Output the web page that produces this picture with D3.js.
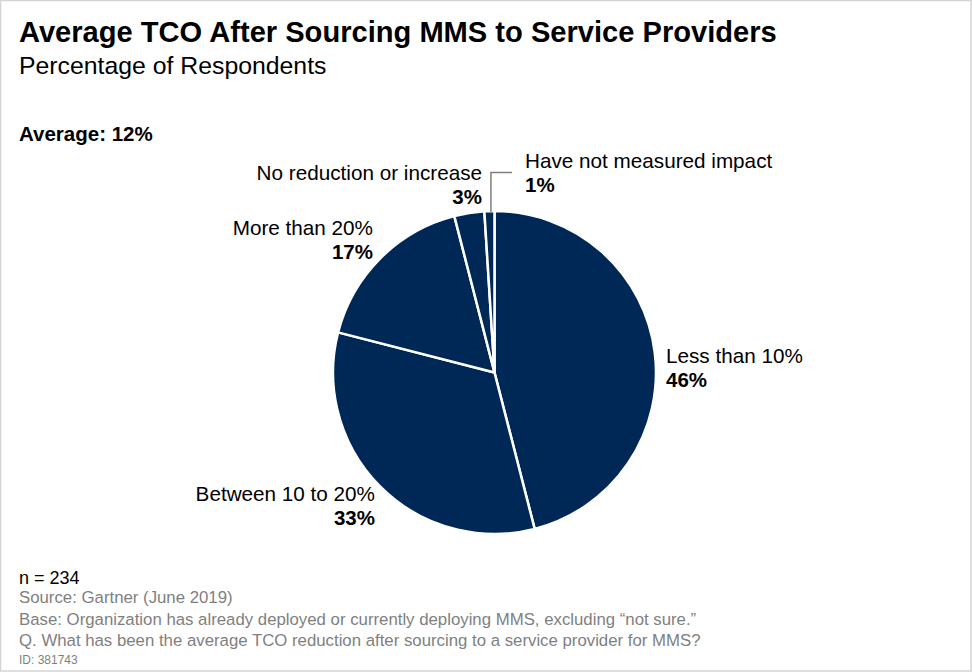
<!DOCTYPE html>
<html>
<head>
<meta charset="utf-8">
<script src="https://cdn.jsdelivr.net/npm/d3@7"></script>
<style>
  body { margin: 0; background: #fff; }
  svg { font-family: Arial, "Liberation Sans", sans-serif; }
</style>
</head>
<body>
<div id="chart"></div>
<script>
// Data
const categories = ["Less than 10%", "Between 10 to 20%", "More than 20%", "No reduction or increase", "Have not measured impact"];
const shares = [46, 33, 17, 3, 1];
const footnotes = [
    "Source: Gartner (June 2019)",
    "Base: Organization has already deployed or currently deploying MMS, excluding \u201cnot sure.\u201d",
    "Q. What has been the average TCO reduction after sourcing to a service provider for MMS?"
];

// Label placement next to each slice (x, baseline of first line, anchor)
const labelPlacement = [
    { x: 666, y: 363, anchor: "start" },
    { x: 375, y: 501, anchor: "end" },
    { x: 373, y: 235, anchor: "end" },
    { x: 482, y: 180, anchor: "end" },
    { x: 525, y: 168, anchor: "start" }
];

const width = 972, height = 672;
const cx = 494.5, cy = 372.5, radius = 161.5;

const svg = d3.select("#chart")
              .append("svg")
              .attr("width", width)
              .attr("height", height);

// Frame
svg.append("rect")
   .attr("x", 0.5).attr("y", 0.5)
   .attr("width", width - 1.5).attr("height", height - 1.5)
   .attr("fill", "#fff")
   .attr("stroke", "#d4d4d4")
   .attr("stroke-width", 1.5);

// Titles
svg.append("text")
   .attr("x", 19).attr("y", 42)
   .attr("font-size", 29.1).attr("font-weight", "bold")
   .text("Average TCO After Sourcing MMS to Service Providers");
svg.append("text")
   .attr("x", 19).attr("y", 74)
   .attr("font-size", 24.8)
   .text("Percentage of Respondents");
svg.append("text")
   .attr("x", 19).attr("y", 141)
   .attr("font-size", 20.5).attr("font-weight", "bold")
   .text("Average: 12%");

// Pie, clockwise from 12 o'clock
const pie = d3.pie().sort(null).value(d => d);
const arcs = pie(shares);
const arc = d3.arc().innerRadius(0).outerRadius(radius);

const g = svg.append("g").attr("transform", "translate(" + cx + "," + cy + ")");
g.selectAll("path")
 .data(arcs)
 .enter()
 .append("path")
 .attr("d", arc)
 .attr("fill", "#002856")
 .attr("stroke", "#fff")
 .attr("stroke-width", 2.5)
 .attr("stroke-linejoin", "round");

// Leader line for the smallest slice
const last = arcs[arcs.length - 1];
const midAngle = (last.startAngle + last.endAngle) / 2;
const lx = cx + radius * Math.sin(midAngle) + 1.5;
const ly = cy - radius * Math.cos(midAngle);
svg.append("polyline")
   .attr("points", [[lx, ly + 1], [lx, 172.5], [512, 172.5]].map(p => p.join(",")).join(" "))
   .attr("fill", "none")
   .attr("stroke", "#7f7f7f")
   .attr("stroke-width", 1.5);

// Slice labels
const labels = svg.selectAll(".slice-label")
                  .data(categories)
                  .enter()
                  .append("text")
                  .attr("class", "slice-label")
                  .attr("text-anchor", (d, i) => labelPlacement[i].anchor)
                  .attr("font-size", 20.7);
labels.append("tspan")
      .attr("x", (d, i) => labelPlacement[i].x)
      .attr("y", (d, i) => labelPlacement[i].y)
      .text(d => d);
labels.append("tspan")
      .attr("x", (d, i) => labelPlacement[i].x)
      .attr("y", (d, i) => labelPlacement[i].y + 24)
      .attr("font-weight", "bold")
      .attr("font-size", 20.5)
      .text((d, i) => shares[i] + "%");

// Footer
svg.append("text")
   .attr("x", 19).attr("y", 584)
   .attr("font-size", 18)
   .text("n = 234");
svg.selectAll(".footnote")
   .data(footnotes)
   .enter()
   .append("text")
   .attr("class", "footnote")
   .attr("x", 19)
   .attr("y", (d, i) => 603 + i * 21.5)
   .attr("font-size", 16.8)
   .attr("fill", "#7f7f7f")
   .text(d => d);
svg.append("text")
   .attr("x", 19).attr("y", 664)
   .attr("font-size", 12)
   .attr("fill", "#7f7f7f")
   .text("ID: 381743");
</script>
</body>
</html>
